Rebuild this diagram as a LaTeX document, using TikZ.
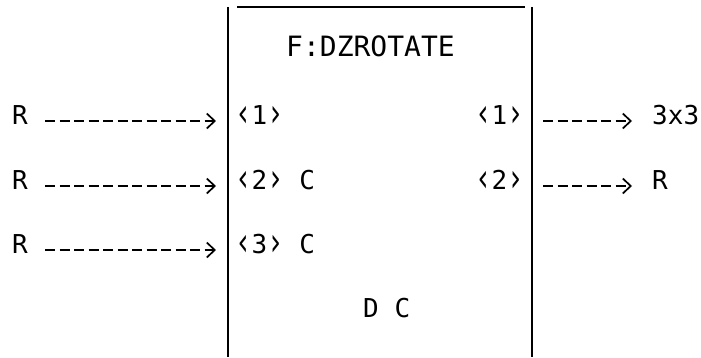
\documentclass[tikz,border=0pt]{standalone}
\usepackage{fontspec}
\setmonofont{DejaVu Sans Mono}
\usetikzlibrary{arrows.meta,positioning}

\newcommand{\opnbr}{\raisebox{-0.08em}{\scalebox{1.05}[1.5]{‹}}}
\newcommand{\clsbr}{\raisebox{-0.08em}{\scalebox{1.05}[1.5]{›}}}

\begin{document}
\begin{tikzpicture}[
  x=1pt, y=-1pt,
  font=\ttfamily\fontsize{26}{26}\selectfont,
  txt/.style={inner sep=0pt, text height=0.73em, text depth=0pt, anchor=west},
  block/.style={minimum width=304pt, minimum height=350pt, inner sep=0pt},
  side/.style={line width=1.6pt},
  flow/.style={line width=1.7pt, dash pattern=on 10pt off 4.5pt,
    -{Straight Barb[length=8pt,width=15pt,line width=1.7pt]}}
]
\useasboundingbox (0,0) rectangle (701,357);

% the box, open at the corners
\node[block] (blk) at (380,182) {};
\draw[side] (blk.north west) -- (blk.south west);
\draw[side] (blk.north east) -- (blk.south east);
\draw[side] ([xshift=9pt]blk.north west) -- ([xshift=-7pt]blk.north east);

\node[txt, font=\ttfamily\fontsize{28}{28}\selectfont] (title) at (286,53) {F:DZROTATE};
\node[txt] (dc) at (363,314) {D C};

% inputs
\node[txt] (inA) at (12,121) {R};
\node[txt] (inB) at (12,186) {R};
\node[txt] (inC) at (12,250) {R};
\node[txt] (pin1) at (235,121) {\opnbr1\clsbr};
\node[txt] (pin2) at (235,186) {\opnbr2\clsbr{} C};
\node[txt] (pin3) at (235,250) {\opnbr3\clsbr{} C};

% outputs
\node[txt, anchor=east] (pout1) at (524,121) {\opnbr1\clsbr};
\node[txt, anchor=east] (pout2) at (524,186) {\opnbr2\clsbr};
\node[txt] (outA) at (652,121) {3x3};
\node[txt] (outB) at (652,186) {R};

\draw[flow] ([xshift=17pt]inA.east) -- ([xshift=-19pt]pin1.west);
\draw[flow] ([xshift=17pt]inB.east) -- ([xshift=-19pt]pin2.west);
\draw[flow] ([xshift=17pt]inC.east) -- ([xshift=-19pt]pin3.west);
\draw[flow] ([xshift=19pt]pout1.east) -- ([xshift=-20pt]outA.west);
\draw[flow] ([xshift=19pt]pout2.east) -- ([xshift=-20pt]outB.west);
\end{tikzpicture}
\end{document}
